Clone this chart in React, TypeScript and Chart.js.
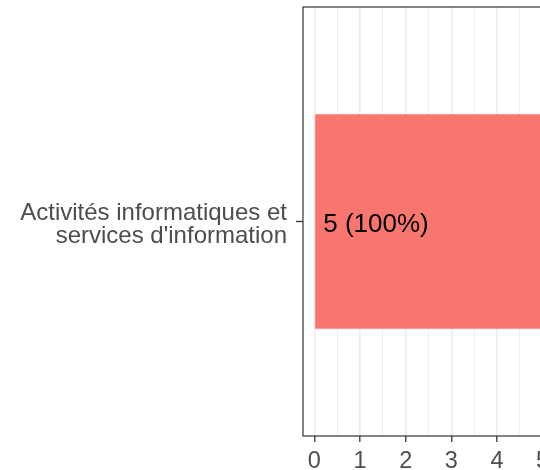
import React, { useEffect, useRef } from "react";
import { Chart, registerables } from "chart.js";

Chart.register(...registerables);

const categories: string[][] = [["Activités informatiques et", "services d'information"]];
const values: number[] = [5];
const valueLabels: string[] = ["5 (100%)"];
const xTicks: number[] = [0, 0.5, 1, 1.5, 2, 2.5, 3, 3.5, 4, 4.5, 5];

const FONT = "'Liberation Sans', Arial, Helvetica, sans-serif";

function drawText(ctx: CanvasRenderingContext2D, text: string, x: number, y: number, align: "left" | "right" | "center") {
  ctx.textAlign = align;
  ctx.fillText(text, x, y);
}

const borderPlugin = {
  id: "panelBorder",
  afterDraw(chart: any) {
    const { ctx, chartArea } = chart;
    ctx.save();
    ctx.strokeStyle = "#333333";
    ctx.lineWidth = 1.2;
    ctx.strokeRect(chartArea.left, chartArea.top, chartArea.right - chartArea.left, chartArea.bottom - chartArea.top);
    ctx.restore();
  },
};

const textPlugin = {
  id: "axisText",
  afterDraw(chart: any) {
    const { ctx, chartArea } = chart;
    const xs = chart.scales.x;
    const ys = chart.scales.y;
    ctx.save();
    ctx.textBaseline = "alphabetic";
    ctx.fillStyle = "#4d4d4d";
    ctx.font = `23.5px ${FONT}`;
    xTicks.filter((v) => Number.isInteger(v)).forEach((v) => {
      drawText(ctx, String(v), xs.getPixelForValue(v), chartArea.bottom + 32, "center");
    });
    ctx.font = `24px ${FONT}`;
    categories.forEach((lines, i) => {
      const cy = ys.getPixelForValue(i);
      const lh = 23.5;
      const n = lines.length;
      lines.forEach((line, j) => {
        const base = cy + (j - (n - 1) / 2) * lh + 10;
        drawText(ctx, line, chartArea.left - 16, base, "right");
      });
    });
    ctx.restore();
  },
  afterDatasetsDraw(chart: any) {
    const { ctx } = chart;
    const meta = chart.getDatasetMeta(0);
    ctx.save();
    ctx.fillStyle = "#000000";
    ctx.font = `26px ${FONT}`;
    ctx.textBaseline = "alphabetic";
    meta.data.forEach((bar: any, i: number) => {
      drawText(ctx, valueLabels[i], bar.base + 8, bar.y + 10, "left");
    });
    ctx.restore();
  },
};

export default function App() {
  const ref = useRef<HTMLCanvasElement>(null);
  useEffect(() => {
    if (!ref.current) return;
    const chart = new Chart(ref.current, {
      type: "bar",
      data: {
        labels: categories as any,
        datasets: [
          {
            data: values,
            backgroundColor: "#F8766D",
            borderWidth: 0,
            barPercentage: 0.5,
            categoryPercentage: 1,
          },
        ],
      },
      options: {
        indexAxis: "y",
        animation: false,
        responsive: false,
        maintainAspectRatio: false,
        layout: { padding: { left: 0, top: 7, right: 3, bottom: 0 } },
        plugins: { legend: { display: false }, tooltip: { enabled: false } },
        scales: {
          x: {
            type: "linear",
            min: -0.25,
            max: 5.25,
            afterBuildTicks(scale: any) {
              scale.ticks = xTicks.map((v) => ({ value: v }));
            },
            afterFit(scale: any) {
              scale.height = 34;
            },
            border: { display: false },
            grid: {
              color: "#ebebeb",
              lineWidth: (ctx: any) => (ctx.tick && Number.isInteger(ctx.tick.value) ? 1.6 : 0.8),
              tickColor: (ctx: any) => (ctx.tick && Number.isInteger(ctx.tick.value) ? "#333333" : "rgba(0,0,0,0)"),
              tickWidth: 1.3,
              tickLength: 6,
              drawTicks: true,
            },
            ticks: { display: false, autoSkip: false },
          },
          y: {
            type: "category",
            afterFit(scale: any) {
              scale.width = 303;
              scale.paddingTop = 0;
              scale.paddingBottom = 0;
            },
            border: { display: false },
            grid: {
              offset: false,
              drawOnChartArea: false,
              drawTicks: true,
              tickLength: 7,
              tickColor: "#333333",
              tickWidth: 1.3,
            },
            ticks: { display: false },
          },
        },
      },
      plugins: [borderPlugin, textPlugin],
    } as any);
    return () => chart.destroy();
  }, []);

  return (
    <div style={{ position: "fixed", left: 0, top: 0, width: 540, height: 470, overflow: "hidden", background: "#fff" }}>
      <canvas ref={ref} width={557} height={470} style={{ display: "block", width: 557, height: 470 }} />
    </div>
  );
}
